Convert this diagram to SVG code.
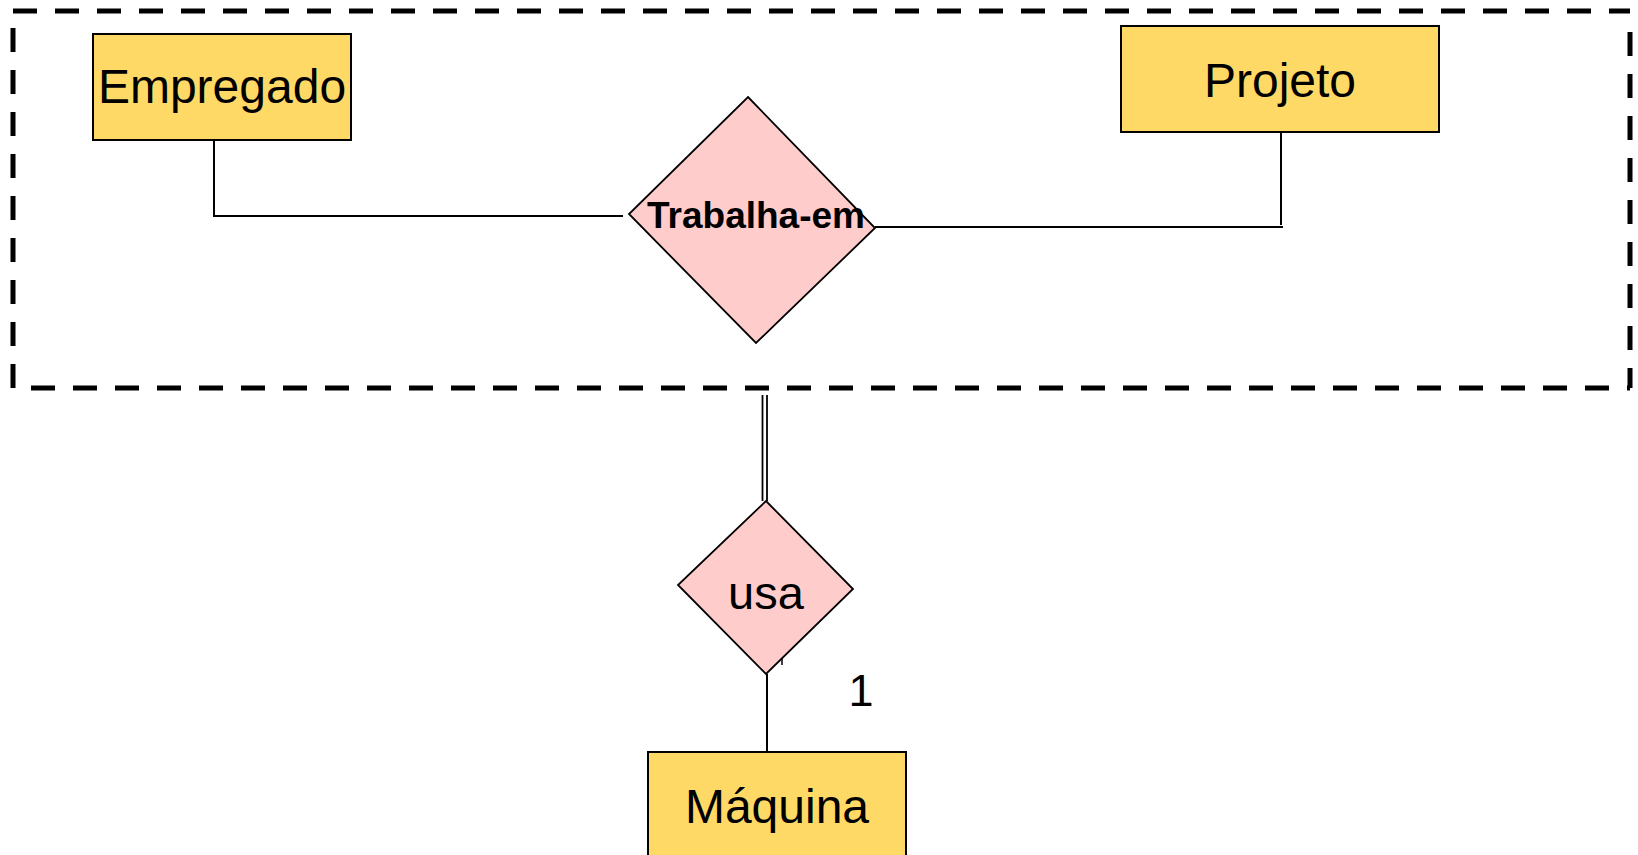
<svg xmlns="http://www.w3.org/2000/svg" width="1638" height="855" viewBox="0 0 1638 855">
<style>
.ent{fill:#ffd966;stroke:#000;stroke-width:2}
.rel{fill:#ffcccc;stroke:#000;stroke-width:1.8}
.t{font-family:"Liberation Sans",Arial,sans-serif;fill:#000;text-anchor:middle}
.ln{stroke:#000;stroke-width:2;fill:none}
.dash{stroke:#000;stroke-width:5;stroke-dasharray:24 18;fill:none}
</style>
<rect width="1638" height="855" fill="#fff"/>
<g id="aggregation">
<line class="dash" x1="13" y1="11" x2="1630" y2="11"/>
<line class="dash" x1="13" y1="28" x2="13" y2="388"/>
<line class="dash" x1="31" y1="388" x2="1630" y2="388"/>
<line class="dash" x1="1630" y1="32" x2="1630" y2="388"/>
</g>
<g id="connectors">
<polyline class="ln" points="214,140 214,216 623,216"/>
<polyline class="ln" points="875,227 1283,227"/>
<line class="ln" x1="1281" y1="132" x2="1281" y2="225"/>
<line stroke="#000" stroke-width="1.8" x1="762.5" y1="395" x2="762.5" y2="501"/>
<line stroke="#000" stroke-width="1.8" x1="767" y1="395" x2="767" y2="501"/>
<line class="ln" x1="767" y1="674" x2="767" y2="752"/>
<line stroke="#000" stroke-width="1.5" x1="782" y1="657" x2="782" y2="665"/>
<text class="t" x="861" y="706" font-size="45">1</text>
</g>
<g id="empregado">
<rect class="ent" x="93" y="34" width="258" height="106"/>
<text class="t" x="222" y="103" font-size="48">Empregado</text>
</g>
<g id="projeto">
<rect class="ent" x="1121" y="26" width="318" height="106"/>
<text class="t" x="1280" y="97" font-size="48">Projeto</text>
</g>
<g id="trabalha-em">
<polygon class="rel" points="748,97 875,228 756,343 629,214"/>
<text class="t" x="756" y="228" font-size="37" font-weight="bold">Trabalha-em</text>
</g>
<g id="usa">
<polygon class="rel" points="766,501 853,589 766,674 678,585"/>
<text class="t" x="766" y="609" font-size="47">usa</text>
</g>
<g id="maquina">
<rect class="ent" x="648" y="752" width="258" height="108"/>
<text class="t" x="777" y="823" font-size="48">Máquina</text>
</g>
</svg>
